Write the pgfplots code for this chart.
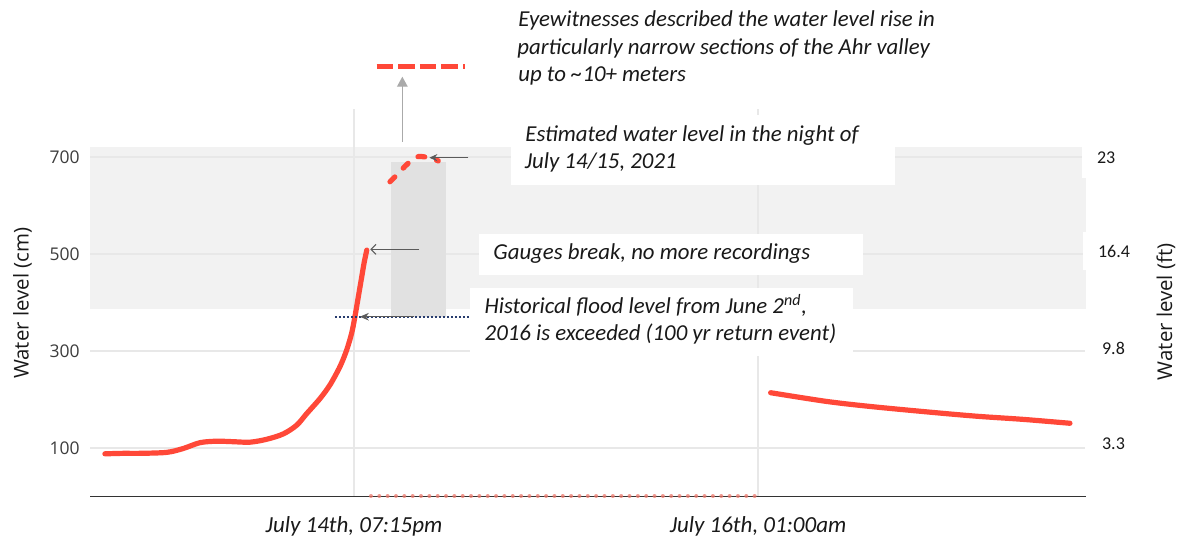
\documentclass[border=0pt]{standalone}
\usepackage{fontspec}
\setmainfont{Carlito}
\newfontfamily\opensans{Open Sans}
\usepackage{pgfplots}
\usepackage{pgfplotstable}
\pgfplotsset{compat=1.18}
\usetikzlibrary{arrows.meta}

\definecolor{redline}{RGB}{255,72,56}
\definecolor{reddot}{RGB}{236,120,108}
\definecolor{bandc}{RGB}{242,242,242}
\definecolor{rectc}{RGB}{225,225,225}
\definecolor{gridc}{RGB}{232,232,232}
\definecolor{navyc}{RGB}{40,60,110}
\definecolor{txt}{RGB}{25,25,25}
\definecolor{ticktxt}{RGB}{60,60,60}
\definecolor{arrowlight}{RGB}{170,170,170}
\definecolor{arrowdark}{RGB}{90,90,90}

% pixel position of the reference -> picture coordinates
\newcommand{\px}[2]{({((#1)-90)*0.5pt},{(496.5-(#2))*0.5pt})}

\pgfplotstableread{
h     cm
0.91  88
2.26  89
3.49  89
5.46  91
6.68  99
7.91  111
9.14  114
10.36 113
11.59 112
12.82 118
14.04 129
15.03 147
15.77 171
16.75 202
17.48 230
18.22 268
18.71 302
19.08 337
19.32 371
19.57 412
19.82 453
19.99 481
20.19 508
}\measured

\pgfplotstableread{
h     cm
21.90 649
22.51 666
23.01 681
23.82 700
24.72 699
25.46 692
}\estimated

\pgfplotstableread{
h     cm
49.93 214
54.06 196
57.49 185
62.40 172
65.35 165
68.54 159
71.97 151
}\after

\begin{document}
\begin{tikzpicture}
\useasboundingbox \px{0}{0} rectangle \px{1183}{536};
\begin{axis}[
  at={(0,0)}, anchor=south west,
  scale only axis, width=497.5pt, height=194pt,
  xmin=-0.19, xmax=73.08, ymin=0, ymax=800,
  clip=false,
  axis line style={draw=none}, tick style={draw=none},
  xtick={19.25,49},
  xticklabels={{July 14th, 07:15pm},{July 16th, 01:00am}},
  ytick={100,300,500,700},
  xticklabel style={font=\itshape\fontsize{11.5}{13}\selectfont, anchor=base, inner sep=0pt, yshift=-18.1pt, text=txt},
  yticklabel style={font=\opensans\fontsize{8.75}{10}\selectfont, anchor=east, inner sep=0pt, xshift=-5pt, text=ticktxt},
  /pgf/number format/assume math mode=true,
]
% shaded band (flood range)
\addplot[fill=bandc, draw=none] coordinates {(-0.19,387) (73.13,387) (73.13,721) (-0.19,721)} -- cycle;

% grid lines
\draw[gridc, line width=0.6pt] (axis cs:-0.19,100) -- (axis cs:73.08,100);
\draw[gridc, line width=0.6pt] (axis cs:-0.19,300) -- (axis cs:73.08,300);
\draw[gridc, line width=0.6pt] (axis cs:-0.19,500) -- (axis cs:73.08,500);
\draw[gridc, line width=0.6pt] (axis cs:-0.19,700) -- (axis cs:73.08,700);
\draw[gridc, line width=0.6pt] (axis cs:19.25,0) -- (axis cs:19.25,800);
\draw[gridc, line width=0.6pt] (axis cs:49,0) -- (axis cs:49,800);

% estimated range bar
\addplot[fill=rectc, draw=none] coordinates {(21.97,370.7) (26.02,370.7) (26.02,690.3) (21.97,690.3)} -- cycle;

% baseline
\draw[black!80, line width=0.75pt] (axis cs:-0.19,0) -- (axis cs:73.13,0);

% missing data (dotted at zero)
\addplot[reddot, opacity=0.75, line width=2pt, line cap=round, dash pattern=on 0pt off 4.17pt] coordinates {(20.50,1) (49.0,1)};

% measured
\addplot[redline, line width=2.6pt, smooth, line cap=round] table[x=h,y=cm] {\measured};
% estimated
\addplot[redline, line width=2.6pt, smooth, line cap=round, dash pattern=on 3.4pt off 6.1pt] table[x=h,y=cm] {\estimated};
% after
\addplot[redline, line width=2.6pt, smooth, line cap=round] table[x=h,y=cm] {\after};
% eyewitness level
\addplot[redline, line width=2.65pt, dash pattern=on 8.3pt off 2.5pt] coordinates {(20.92,886) (27.42,886)};

% historical flood level
\draw[navyc, line width=0.8pt, dash pattern=on 0.8pt off 1.2pt] (axis cs:17.85,370.7) -- (axis cs:27.76,370.7);

% arrows
\draw[arrowlight, line width=0.65pt, -{Triangle[length=5pt,width=5.3pt]}] (axis cs:22.81,731.5) -- (axis cs:22.81,865.6);
\draw[arrowdark, line width=0.55pt, -{Stealth[length=4pt,width=3.6pt]}] (axis cs:27.67,698.6) -- (axis cs:24.80,698.6);
\draw[arrowdark, line width=0.5pt, -{Straight Barb[length=2.5pt,width=5pt]}] (axis cs:24.07,509.7) -- (axis cs:20.45,509.7);
\draw[arrowdark, line width=0.55pt, -{Stealth[length=4.5pt,width=3.8pt]}] (axis cs:23.68,370.7) -- (axis cs:19.68,370.7);
\end{axis}

% white label boxes on the right
\fill[white] \px{1081.7}{146} rectangle \px{1140}{178.3};
\fill[white] \px{1082.7}{231.7} rectangle \px{1140}{270};

% annotation boxes
\fill[white] \px{511}{115} rectangle \px{895}{185};
\fill[white] \px{479.3}{234.3} rectangle \px{863.3}{275};
\fill[white] \px{470}{288.3} rectangle \px{853.3}{356};

\tikzset{ann/.style={anchor=mid west, inner sep=0pt, text=txt, font=\itshape\fontsize{11.4}{13}\selectfont}}
\node[ann] at \px{518}{21.7} {Eyewitnesses described the water level rise in};
\node[ann] at \px{517}{50} {particularly narrow sections of the Ahr valley};
\node[ann] at \px{518}{76.7} {up to \textasciitilde10+ meters};

\node[ann] at \px{525}{136.7} {Estimated water level in the night of};
\node[ann] at \px{524.5}{163.3} {July 14/15, 2021};
\node[ann] at \px{493}{255} {Gauges break, no more recordings};
\node[ann] at \px{484.3}{308.3} {Historical flood level from June 2\textsuperscript{nd},};
\node[ann] at \px{484.3}{335.5} {2016 is exceeded (100 yr return event)};

% right axis (ft)
\tikzset{ftl/.style={anchor=base west, inner sep=0pt, text=txt, font=\fontsize{9}{10}\selectfont}}
\node[ftl] at \px{1096.7}{164} {23};
\node[ftl] at \px{1097.7}{257.4} {16.4};
\node[ftl] at \px{1101.7}{354} {9.8};
\node[ftl] at \px{1101.7}{449} {3.3};

% axis titles
\node[rotate=90, inner sep=0pt, text=txt, font=\opensans\fontsize{10.2}{12}\selectfont] at \px{22.5}{303.3} {Water level (cm)};
\node[rotate=90, inner sep=0pt, text=txt, font=\opensans\fontsize{10.2}{12}\selectfont] at \px{1166}{311.7} {Water level (ft)};
\end{tikzpicture}
\end{document}
